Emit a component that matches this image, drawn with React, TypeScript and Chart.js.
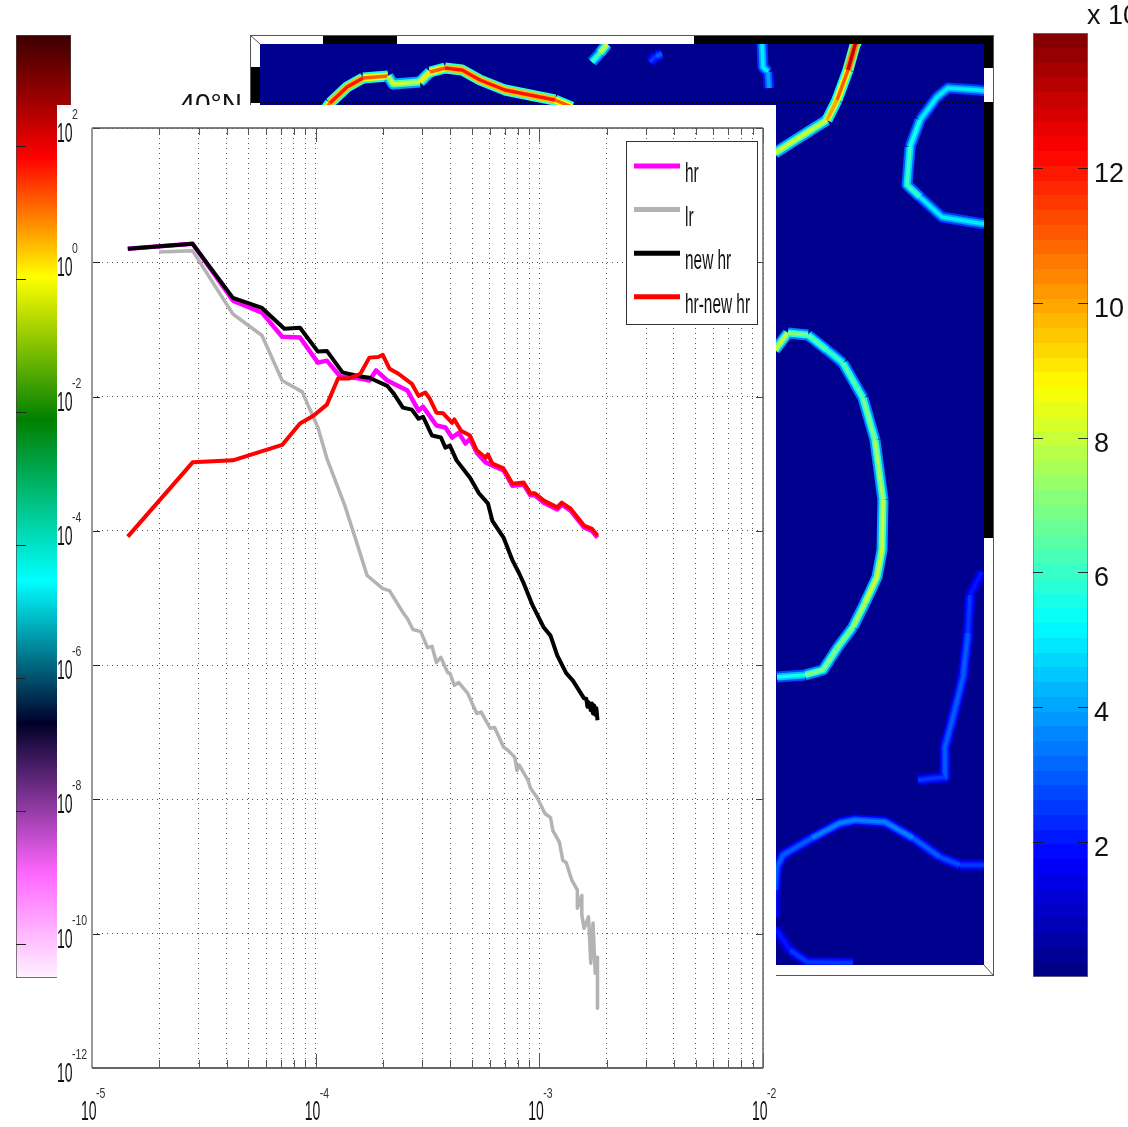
import React, { useEffect, useRef } from "react";
import { Chart, registerables } from "chart.js";

Chart.register(...registerables);

// ---------- main spectrum: log10(wavenumber), log10(spectrum) ----------
const hrK = [-4.84,-4.55,-4.37,-4.24,-4.15,-4.07,-3.99,-3.95,-3.89,-3.80,-3.76,-3.73,-3.68,-3.59,-3.54,-3.52,-3.46,-3.42,-3.39,-3.36,-3.33,-3.31,-3.28,-3.24,-3.16,-3.12,-3.07,-3.04,-3.02,-2.98,-2.92,-2.90,-2.86,-2.80,-2.765,-2.74];
const hrE = [0.20,0.275,-0.57,-0.75,-1.11,-1.12,-1.495,-1.465,-1.70,-1.73,-1.76,-1.61,-1.76,-1.91,-2.21,-2.15,-2.43,-2.46,-2.61,-2.54,-2.70,-2.63,-2.835,-2.98,-3.10,-3.33,-3.31,-3.47,-3.47,-3.58,-3.68,-3.61,-3.70,-3.95,-4.00,-4.10];

const lrK = [-4.70,-4.55,-4.37,-4.24,-4.15,-4.06,-3.99,-3.95,-3.87,-3.815,-3.77,-3.70,-3.67,-3.61,-3.59,-3.565,-3.53,-3.50,-3.48,-3.46,-3.44,-3.41,-3.40,-3.38,-3.36,-3.32,-3.28,-3.26,-3.22,-3.20,-3.16,-3.14,-3.11,-3.10,-3.09,-3.05,-3.04,-3.01,-2.975,-2.95,-2.94,-2.91,-2.895,-2.88,-2.855,-2.83,-2.83,-2.81,-2.81,-2.80,-2.78,-2.77,-2.76,-2.75,-2.74,-2.74];
const lrE = [0.155,0.17,-0.77,-1.09,-1.76,-1.93,-2.46,-2.92,-3.62,-4.19,-4.665,-4.86,-4.89,-5.215,-5.305,-5.47,-5.50,-5.74,-5.72,-5.96,-5.885,-6.11,-6.12,-6.30,-6.26,-6.42,-6.72,-6.70,-6.94,-6.93,-7.22,-7.27,-7.37,-7.57,-7.49,-7.72,-7.83,-7.97,-8.21,-8.27,-8.46,-8.64,-8.91,-8.94,-9.20,-9.35,-9.62,-9.43,-9.72,-9.92,-9.75,-10.44,-9.84,-10.59,-10.35,-11.11];

const newHrK = [-4.84,-4.55,-4.37,-4.24,-4.14,-4.07,-3.99,-3.95,-3.88,-3.80,-3.76,-3.68,-3.65,-3.61,-3.57,-3.54,-3.52,-3.48,-3.44,-3.42,-3.40,-3.37,-3.31,-3.27,-3.23,-3.21,-3.16,-3.12,-3.09,-3.07,-3.03,-2.98,-2.95,-2.92,-2.88,-2.85,-2.80,-2.79,-2.785,-2.78,-2.77,-2.765,-2.76,-2.755,-2.75,-2.745,-2.74];
const newHrE = [0.20,0.275,-0.53,-0.68,-0.99,-0.975,-1.33,-1.32,-1.64,-1.70,-1.72,-1.84,-1.96,-2.165,-2.195,-2.33,-2.30,-2.58,-2.61,-2.76,-2.73,-2.95,-3.21,-3.44,-3.59,-3.85,-4.10,-4.44,-4.635,-4.78,-5.11,-5.44,-5.56,-5.855,-6.12,-6.23,-6.495,-6.50,-6.62,-6.55,-6.67,-6.57,-6.72,-6.60,-6.74,-6.64,-6.82];

const diffK = [-4.84,-4.55,-4.37,-4.15,-4.07,-4.01,-3.95,-3.90,-3.85,-3.80,-3.76,-3.72,-3.70,-3.67,-3.63,-3.57,-3.54,-3.51,-3.49,-3.46,-3.43,-3.39,-3.38,-3.35,-3.31,-3.28,-3.24,-3.23,-3.21,-3.16,-3.12,-3.07,-3.04,-3.02,-2.98,-2.92,-2.90,-2.86,-2.80,-2.765,-2.74];
const diffE = [-4.085,-2.98,-2.95,-2.72,-2.40,-2.285,-2.12,-1.73,-1.73,-1.66,-1.42,-1.41,-1.38,-1.585,-1.66,-1.81,-1.99,-1.94,-2.03,-2.24,-2.25,-2.39,-2.34,-2.51,-2.58,-2.80,-2.91,-2.86,-3.00,-3.07,-3.30,-3.28,-3.44,-3.44,-3.55,-3.65,-3.58,-3.67,-3.92,-3.97,-4.07];

const seriesNames = ["hr", "lr", "new hr", "hr-new hr"];
const seriesColors = ["#ff00ff", "#b3b3b3", "#000000", "#ff0000"];

const xMajorExps = [-5, -4, -3, -2];
const xMinorMultipliers = [2, 3, 4, 5, 6, 7, 8, 9];
const yMajorExps = [2, 0, -2, -4, -6, -8, -10, -12];

// ---------- map contours: [east distance, south distance, field value] ----------
const contourA = [[65,66,11],[70,59,12],[87,43,12],[103,34,11],[128,32,8],[133,40,8],[160,38,9],[170,28,11],[185,24,12],[202,26,12],[220,36,12],[245,46,12],[270,51,12],[295,56,11],[312,63,8]];
const contourB = [[515,109,8],[540,93,8],[567,76,10],[577,56,11],[588,26,13],[595,1,13],[597,-3,13]];
const contourC = [[502,-2,5],[503,23,5],[508,28,4],[509,44,3]];
const contourD = [[332,18,6],[340,9,8],[347,0,9]];
const contourE = [[390,18,2.5],[396,12,3],[402,10,2]];
const contourF = [[726,47,5],[718,46,5],[688,44,5],[677,53,5],[660,76,5.5],[650,103,6],[647,141,6],[660,153,5],[682,173,5],[718,179,5],[726,180,5]];
const contourG = [[515,306,8],[528,289,7],[548,291,6.5],[567,306,6],[583,319,6.5],[603,354,7],[615,396,7.5],[623,456,8],[622,506,8],[617,533,8],[605,559,7.5],[593,583,7],[578,603,7],[563,626,7],[545,631,5.5],[517,633,5]];
const contourH = [[722,528,2],[710,551,2.5],[708,589,3],[703,633,3],[693,673,3],[685,703,3],[685,733,2.5],[658,736,2.5]];
const contourI = [[515,873,2],[515,846,3],[517,823,3],[523,811,3],[552,794,3.5],[580,779,3.5],[595,776,3.5],[625,778,3.5],[653,794,3],[680,813,2.8],[700,821,2.5],[726,821,2.5]];
const contourJ = [[515,884,2],[530,906,2.5],[547,918,2.5],[593,919,2]];
const contours = [contourA, contourB, contourC, contourD, contourE, contourF, contourG, contourH, contourI, contourJ];

const mapTopBlack = [[63, 137], [434, 733]];
const mapRightBlack = [[-9, 24], [58, 494]];
const mapLeftBlack = [[23, 59]];
const mapLatTicks = [58];
const mapLatLabels = ["40°N"];

// ---------- colour bars ----------
const rightBarTicks = [2, 4, 6, 8, 10, 12];
const rightBarRange = [0, 14];
const leftBarRangeExp = [-10.51, 3.67];
const leftBarTickExps = [2, 0, -2, -4, -6, -8, -10];
const leftBarStopExps = [3.67, 2.7, 1.83, 0.03, -2.12, -4.53, -6.68, -8.93, -10.51];
const leftBarStopColors = ["#3c0000", "#9c0000", "#ff0000", "#ffff00", "#008000", "#00ffff", "#00002a", "#ff66ff", "#fff2ff"];

const W = 1128;
const H = 1127;
const SANS = '"Liberation Sans", Arimo, Helvetica, sans-serif';

const clamp01 = (v: number) => Math.max(0, Math.min(1, v));
function jet(t: number) {
  const r = clamp01(1.5 - Math.abs(4 * t - 3));
  const g = clamp01(1.5 - Math.abs(4 * t - 2));
  const b = clamp01(1.5 - Math.abs(4 * t - 1));
  return `rgb(${Math.round(r * 255)},${Math.round(g * 255)},${Math.round(b * 255)})`;
}

function stretched(ctx: any, text: string, x: number, y: number, size: number, sx: number, color = "#111") {
  ctx.save();
  ctx.translate(x, y);
  ctx.scale(sx, 1);
  ctx.font = `${size}px ${SANS}`;
  ctx.fillStyle = color;
  ctx.textAlign = "left";
  ctx.textBaseline = "alphabetic";
  ctx.fillText(text, 0, 0);
  ctx.restore();
}

function zip(k: number[], e: number[]) {
  return k.map((v, i) => ({ x: 10 ** v, y: 10 ** e[i] }));
}

function makeMain(canvas: HTMLCanvasElement) {
  const lineData = [zip(hrK, hrE), zip(lrK, lrE), zip(newHrK, newHrE), zip(diffK, diffE)];
  const orders = [3, 4, 2, 1];
  const widths = [4.5, 3.5, 4, 4];
  const xGrid: number[] = [];
  xMajorExps.forEach((p, i) => {
    xGrid.push(10 ** p);
    if (i < xMajorExps.length - 1) xMinorMultipliers.forEach((m) => xGrid.push(m * 10 ** p));
  });
  const decor = {
    id: "decor",
    beforeDraw(c: any) {
      c.ctx.fillStyle = "#fff";
      c.ctx.fillRect(0, 0, c.width, c.height);
    },
    afterDraw(c: any) {
      const { ctx, chartArea: a, scales } = c;
      const line = (x1: number, y1: number, x2: number, y2: number, col: string, w: number) => {
        ctx.strokeStyle = col;
        ctx.lineWidth = w;
        ctx.beginPath();
        ctx.moveTo(x1, y1);
        ctx.lineTo(x2, y2);
        ctx.stroke();
      };
      ctx.save();
      xGrid.forEach((v) => {
        const x = Math.round(scales.x.getPixelForValue(v)) + 0.5;
        const major = xMajorExps.some((p) => Math.abs(Math.log10(v) - p) < 1e-6);
        line(x, a.bottom, x, a.bottom - (major ? 14 : 8), "#555", 1);
        line(x, a.top, x, a.top + (major ? 14 : 7), "#555", 1);
      });
      yMajorExps.forEach((p) => {
        const y = Math.round(scales.y.getPixelForValue(10 ** p)) + 0.5;
        line(a.left, y, a.left + 8, y, "#222", 1);
        line(a.right, y, a.right - 7, y, "#444", 1);
      });
      line(a.left, a.top, a.right, a.top, "#555", 1.5);
      line(a.right, a.top, a.right, a.bottom, "#666", 1.5);
      line(a.left, a.top, a.left, a.bottom, "#999", 2);
      line(a.left, a.bottom, a.right, a.bottom, "#666", 2);

      yMajorExps.forEach((p) => {
        const y = scales.y.getPixelForValue(10 ** p);
        stretched(ctx, "10", a.left - 35, y + 14, 28, 0.5);
        stretched(ctx, String(p), a.left - 20, y - 9, 15, 0.7, "#333");
      });
      xMajorExps.forEach((p) => {
        const x = scales.x.getPixelForValue(10 ** p);
        stretched(ctx, "10", x - 11, a.bottom + 52, 28, 0.5);
        stretched(ctx, String(p), x + 4, a.bottom + 30, 15, 0.7, "#333");
      });

      // legend box
      const lx = a.right - 137;
      const ly = a.top + 13;
      const lw = 131;
      const lh = 183;
      ctx.fillStyle = "#fff";
      ctx.fillRect(lx, ly, lw, lh);
      ctx.strokeStyle = "#333";
      ctx.lineWidth = 1;
      ctx.strokeRect(lx + 0.5, ly + 0.5, lw, lh);
      seriesNames.forEach((name, i) => {
        const rowY = ly + 25 + i * 43.6;
        line(lx + 8, rowY, lx + 54, rowY, seriesColors[i], 5);
        stretched(ctx, name, lx + 59, rowY + 16, 28, 0.55);
      });
      ctx.restore();
    },
  };
  return new Chart(canvas, {
    type: "line",
    data: {
      datasets: lineData.map((d, i) => ({
        label: seriesNames[i],
        data: d,
        borderColor: seriesColors[i],
        backgroundColor: seriesColors[i],
        borderWidth: widths[i],
        pointRadius: 0,
        tension: 0,
        order: orders[i],
        borderJoinStyle: "round",
      })),
    } as any,
    options: {
      responsive: false,
      animation: false,
      devicePixelRatio: 1,
      layout: { padding: { left: 35, right: 13, top: 23, bottom: 59 } },
      plugins: { legend: { display: false }, tooltip: { enabled: false } },
      events: [],
      scales: {
        x: {
          type: "logarithmic",
          min: 1e-5,
          max: 1e-2,
          afterBuildTicks: (s: any) => {
            s.ticks = xGrid.map((value) => ({ value }));
          },
          ticks: { display: false, autoSkip: false },
          grid: { color: "#555", drawTicks: false, tickLength: 0, lineWidth: 1 },
          border: { display: false, dash: [1, 4] },
        },
        y: {
          type: "logarithmic",
          min: 1e-12,
          max: 1e2,
          afterBuildTicks: (s: any) => {
            s.ticks = yMajorExps.map((p) => ({ value: 10 ** p }));
          },
          ticks: { display: false, autoSkip: false },
          grid: { color: "#555", drawTicks: false, tickLength: 0, lineWidth: 1 },
          border: { display: false, dash: [1, 4] },
        },
      },
    } as any,
    plugins: [decor],
  });
}

function makeMap(canvas: HTMLCanvasElement) {
  const layers = [
    { k: 0.5, w: 11, order: 3 },
    { k: 0.8, w: 7, order: 2 },
    { k: 1, w: 3.5, order: 1 },
  ];
  const datasets: any[] = [];
  contours.forEach((c) => {
    layers.forEach((l) => {
      datasets.push({
        data: c.map((p) => ({ x: p[0], y: p[1] })),
        borderWidth: l.w,
        pointRadius: 0,
        tension: 0,
        order: l.order,
        clip: 0,
        borderColor: jet((c[0][2] * l.k) / 14),
        borderJoinStyle: "round",
        borderCapStyle: "butt",
        segment: { borderColor: (s: any) => jet((c[s.p0DataIndex][2] * l.k) / 14) },
      });
    });
  });
  const frame = {
    id: "frame",
    beforeDraw(c: any) {
      const { ctx, chartArea: a, scales } = c;
      const X = (v: number) => scales.x.getPixelForValue(v);
      const Y = (v: number) => scales.y.getPixelForValue(v);
      const oL = a.left - 10;
      const oT = a.top - 9;
      const oR = a.right + 9;
      const oB = a.bottom + 10;
      ctx.save();
      ctx.fillStyle = "#fff";
      ctx.fillRect(oL, oT, oR - oL, oB - oT);
      ctx.fillStyle = "#000";
      mapTopBlack.forEach(([s, e]) => ctx.fillRect(X(s), oT, Math.min(X(e), oR) - X(s), a.top - oT));
      mapRightBlack.forEach(([s, e]) => ctx.fillRect(a.right, Math.max(Y(s), oT), oR - a.right, Y(e) - Math.max(Y(s), oT)));
      mapLeftBlack.forEach(([s, e]) => ctx.fillRect(oL, Y(s), a.left - oL, Y(e) - Y(s)));
      ctx.fillStyle = "#00008f";
      ctx.fillRect(a.left, a.top, a.right - a.left, a.bottom - a.top);
      ctx.strokeStyle = "#555";
      ctx.lineWidth = 1;
      ctx.strokeRect(oL + 0.5, oT + 0.5, oR - oL, oB - oT);
      ctx.beginPath();
      ctx.moveTo(oL, oT);
      ctx.lineTo(a.left, a.top);
      ctx.moveTo(oR, oB);
      ctx.lineTo(a.right, a.bottom);
      ctx.stroke();
      ctx.restore();
      mapLatTicks.forEach((t, i) => {
        ctx.save();
        ctx.font = `28px ${SANS}`;
        ctx.fillStyle = "#111";
        ctx.textAlign = "right";
        ctx.textBaseline = "alphabetic";
        ctx.fillText(mapLatLabels[i], a.left - 18, Y(t) + 11);
        ctx.restore();
      });
    },
  };
  return new Chart(canvas, {
    type: "line",
    data: { datasets },
    options: {
      responsive: false,
      animation: false,
      devicePixelRatio: 1,
      layout: { padding: { left: 260, right: W - 984, top: 44, bottom: H - 965 } },
      plugins: { legend: { display: false }, tooltip: { enabled: false } },
      events: [],
      scales: {
        x: { type: "linear", min: 0, max: 724, display: false },
        y: {
          type: "linear",
          min: 0,
          max: 921,
          reverse: true,
          afterBuildTicks: (s: any) => {
            s.ticks = mapLatTicks.map((value) => ({ value }));
          },
          ticks: { display: false, autoSkip: false },
          grid: { color: "#000", drawTicks: false, tickLength: 0, lineWidth: 1 },
          border: { display: false, dash: [1, 3] },
        },
      },
    } as any,
    plugins: [frame],
  });
}

function makeRightBar(canvas: HTMLCanvasElement) {
  const ticksPlugin = {
    id: "rbar",
    afterDraw(c: any) {
      const { ctx, chartArea: a, scales } = c;
      ctx.save();
      rightBarTicks.forEach((t) => {
        const y = Math.round(scales.y.getPixelForValue(t)) + 0.5;
        ctx.strokeStyle = "rgba(20,20,20,0.85)";
        ctx.lineWidth = 1;
        ctx.beginPath();
        ctx.moveTo(a.left, y);
        ctx.lineTo(a.left + 10, y);
        ctx.moveTo(a.right, y);
        ctx.lineTo(a.right - 10, y);
        ctx.stroke();
        ctx.font = `27px ${SANS}`;
        ctx.fillStyle = "#111";
        ctx.textAlign = "left";
        ctx.textBaseline = "alphabetic";
        ctx.fillText(String(t), a.right + 6, y + 13);
      });
      ctx.font = `27px ${SANS}`;
      ctx.fillStyle = "#111";
      ctx.textAlign = "left";
      ctx.fillText("x 10", a.left + 54, 24);
      ctx.restore();
    },
  };
  const fill = (ctx: any) => {
    const { chart } = ctx;
    const a = chart.chartArea;
    if (!a) return "#00008f";
    const g = chart.ctx.createLinearGradient(0, a.bottom, 0, a.top);
    const n = 64;
    for (let i = 0; i < n; i++) {
      const col = jet((i + 0.5) / n);
      g.addColorStop(i / n, col);
      g.addColorStop((i + 1) / n, col);
    }
    return g;
  };
  return new Chart(canvas, {
    type: "bar",
    data: {
      labels: ["field"],
      datasets: [{ data: [rightBarRange], backgroundColor: fill, borderColor: "#777", borderWidth: 1, borderSkipped: false, barPercentage: 1, categoryPercentage: 1 }],
    } as any,
    options: {
      responsive: false,
      animation: false,
      devicePixelRatio: 1,
      layout: { padding: { left: 1033, right: W - 1088, top: 33, bottom: H - 977 } },
      plugins: { legend: { display: false }, tooltip: { enabled: false } },
      events: [],
      scales: {
        x: { display: false },
        y: { min: rightBarRange[0], max: rightBarRange[1], display: false },
      },
    } as any,
    plugins: [ticksPlugin],
  });
}

function makeLeftBar(canvas: HTMLCanvasElement) {
  const lo = 10 ** leftBarRangeExp[0];
  const hi = 10 ** leftBarRangeExp[1];
  const ticksPlugin = {
    id: "lbar",
    afterDraw(c: any) {
      const { ctx, chartArea: a, scales } = c;
      ctx.save();
      ctx.strokeStyle = "#222";
      ctx.lineWidth = 1;
      leftBarTickExps.forEach((p) => {
        const y = Math.round(scales.y.getPixelForValue(10 ** p)) + 0.5;
        ctx.beginPath();
        ctx.moveTo(a.left, y);
        ctx.lineTo(a.left + 10, y);
        ctx.stroke();
      });
      ctx.restore();
    },
  };
  const fill = (ctx: any) => {
    const { chart } = ctx;
    const a = chart.chartArea;
    if (!a) return "#000";
    const g = chart.ctx.createLinearGradient(0, a.top, 0, a.bottom);
    const span = leftBarRangeExp[1] - leftBarRangeExp[0];
    leftBarStopExps.forEach((e, i) => g.addColorStop(clamp01((leftBarRangeExp[1] - e) / span), leftBarStopColors[i]));
    return g;
  };
  return new Chart(canvas, {
    type: "bar",
    data: {
      labels: ["levels"],
      datasets: [{ data: [[lo, hi]], backgroundColor: fill, borderColor: "#444", borderWidth: 1, borderSkipped: false, barPercentage: 1, categoryPercentage: 1 }],
    } as any,
    options: {
      responsive: false,
      animation: false,
      devicePixelRatio: 1,
      layout: { padding: { left: 16, right: W - 71, top: 35, bottom: H - 978 } },
      plugins: { legend: { display: false }, tooltip: { enabled: false } },
      events: [],
      scales: {
        x: { display: false },
        y: { type: "logarithmic", min: lo, max: hi, display: false },
      },
    } as any,
    plugins: [ticksPlugin],
  });
}

export default function App() {
  const mapRef = useRef<HTMLCanvasElement>(null);
  const rightRef = useRef<HTMLCanvasElement>(null);
  const leftRef = useRef<HTMLCanvasElement>(null);
  const mainRef = useRef<HTMLCanvasElement>(null);
  useEffect(() => {
    const charts = [
      makeMap(mapRef.current!),
      makeRightBar(rightRef.current!),
      makeLeftBar(leftRef.current!),
      makeMain(mainRef.current!),
    ];
    return () => charts.forEach((c) => c.destroy());
  }, []);
  const full: React.CSSProperties = { position: "absolute", left: 0, top: 0, display: "block" };
  return (
    <div style={{ position: "absolute", left: 0, top: 0, width: W, height: H, overflow: "hidden", background: "#fff" }}>
      <canvas ref={mapRef} width={W} height={H} style={full} />
      <canvas ref={rightRef} width={W} height={H} style={full} />
      <canvas ref={leftRef} width={W} height={H} style={full} />
      <canvas ref={mainRef} width={719} height={1022} style={{ position: "absolute", left: 57, top: 105, display: "block" }} />
    </div>
  );
}
